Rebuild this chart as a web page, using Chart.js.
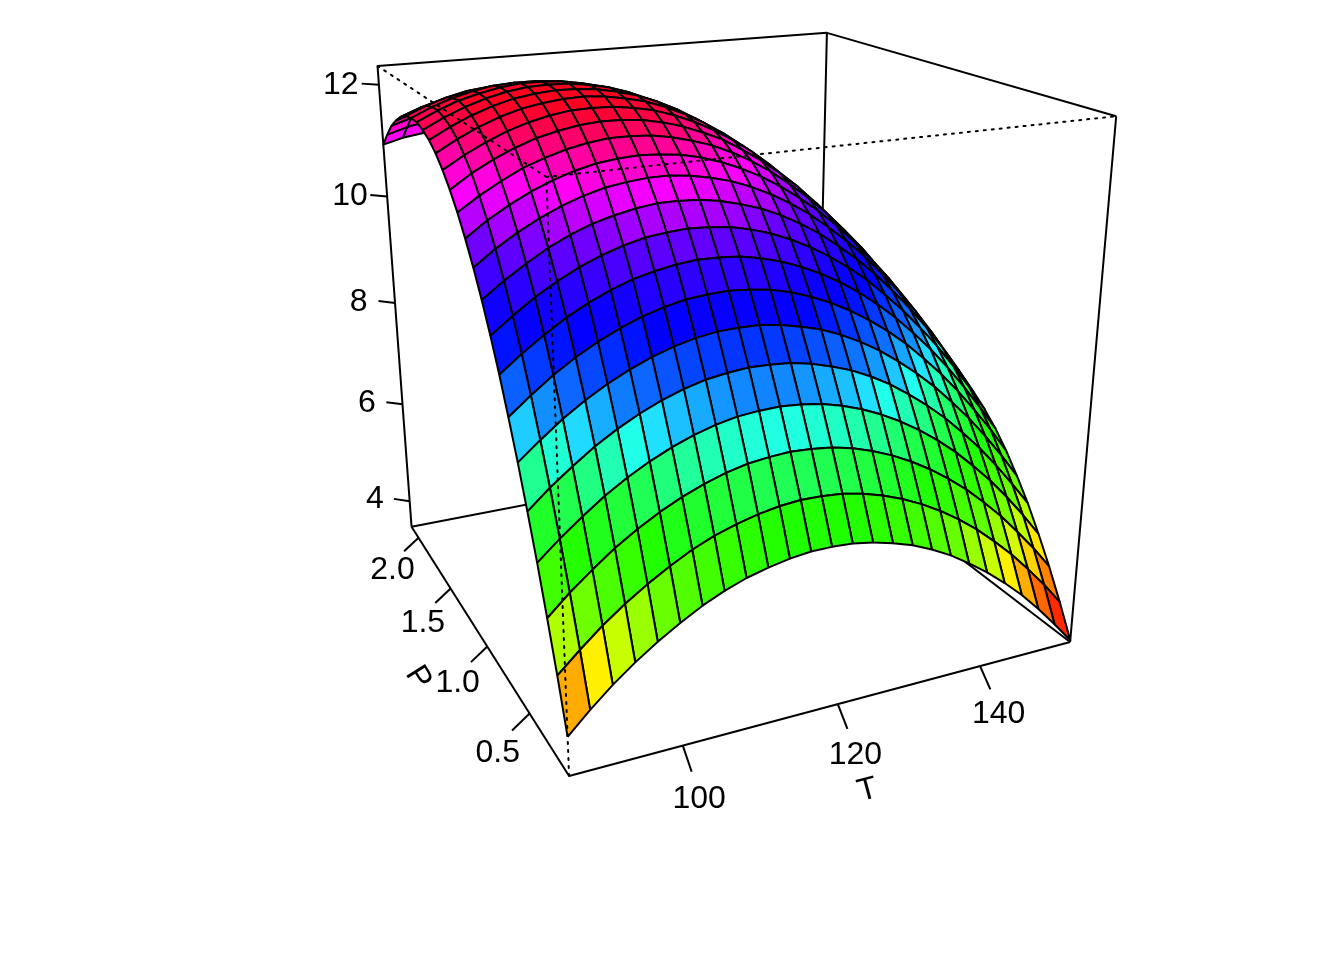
<!DOCTYPE html>
<html lang="en">
<head>
  <meta charset="UTF-8" />
  <title>Response surface of T and P</title>
  <script src="https://cdn.jsdelivr.net/npm/chart.js"></script>
  <style>
    body { margin: 0; background: #fff; }
    canvas { display: block; }
  </style>
</head>
<body>
  <canvas id="surface" width="1344" height="960"></canvas>

  <script>
    // grid of the surface
    const tValues = [86.38, 89.07, 91.76, 94.44, 97.13, 99.82, 102.51, 105.19, 107.88, 110.57, 113.26, 115.94, 118.63, 121.32, 124.01, 126.69, 129.38, 132.07, 134.76, 137.44, 140.13, 142.82, 145.51, 148.19, 150.88, 153.57];
    const pValues = [0.094, 0.175, 0.256, 0.337, 0.418, 0.499, 0.580, 0.660, 0.741, 0.822, 0.903, 0.984, 1.065, 1.146, 1.227, 1.308, 1.389, 1.470, 1.551, 1.632, 1.712, 1.793, 1.874, 1.955, 2.036, 2.117];
    // one row per P value, one column per T value
    const zRows = [
      [4.12, 4.47, 4.79, 5.07, 5.32, 5.54, 5.74, 5.90, 6.03, 6.12, 6.19, 6.23, 6.23, 6.21, 6.15, 6.06, 5.95, 5.80, 5.62, 5.40, 5.16, 4.89, 4.59, 4.25, 3.88, 3.49],
      [4.93, 5.26, 5.57, 5.84, 6.08, 6.29, 6.48, 6.63, 6.74, 6.83, 6.89, 6.92, 6.91, 6.88, 6.81, 6.71, 6.58, 6.42, 6.23, 6.01, 5.76, 5.47, 5.16, 4.81, 4.44, 4.03],
      [5.68, 6.01, 6.30, 6.57, 6.80, 7.00, 7.17, 7.31, 7.42, 7.50, 7.54, 7.56, 7.54, 7.50, 7.42, 7.31, 7.17, 7.00, 6.80, 6.57, 6.31, 6.01, 5.69, 5.33, 4.95, 4.53],
      [6.40, 6.71, 6.99, 7.25, 7.47, 7.66, 7.82, 7.95, 8.05, 8.12, 8.15, 8.16, 8.13, 8.08, 7.99, 7.87, 7.72, 7.54, 7.33, 7.09, 6.82, 6.51, 6.18, 5.81, 5.41, 4.98],
      [7.06, 7.37, 7.64, 7.89, 8.10, 8.28, 8.43, 8.55, 8.64, 8.69, 8.72, 8.71, 8.68, 8.61, 8.51, 8.39, 8.23, 8.04, 7.81, 7.56, 7.28, 6.96, 6.62, 6.24, 5.83, 5.40],
      [7.69, 7.98, 8.25, 8.48, 8.68, 8.85, 8.99, 9.10, 9.18, 9.23, 9.24, 9.23, 9.18, 9.10, 9.00, 8.86, 8.69, 8.49, 8.25, 7.99, 7.70, 7.37, 7.02, 6.63, 6.21, 5.76],
      [8.27, 8.55, 8.81, 9.03, 9.22, 9.38, 9.51, 9.61, 9.68, 9.71, 9.72, 9.69, 9.64, 9.55, 9.43, 9.28, 9.10, 8.89, 8.65, 8.38, 8.07, 7.74, 7.37, 6.97, 6.55, 6.09],
      [8.81, 9.08, 9.32, 9.54, 9.72, 9.87, 9.99, 10.07, 10.13, 10.16, 10.15, 10.12, 10.05, 9.95, 9.82, 9.66, 9.47, 9.25, 9.00, 8.72, 8.40, 8.06, 7.68, 7.27, 6.83, 6.37],
      [9.30, 9.56, 9.80, 10.00, 10.17, 10.31, 10.42, 10.50, 10.54, 10.56, 10.54, 10.50, 10.42, 10.31, 10.17, 10.00, 9.80, 9.57, 9.31, 9.01, 8.69, 8.33, 7.95, 7.53, 7.08, 6.60],
      [9.75, 10.00, 10.22, 10.42, 10.58, 10.71, 10.80, 10.87, 10.91, 10.91, 10.89, 10.83, 10.74, 10.63, 10.48, 10.30, 10.09, 9.84, 9.57, 9.27, 8.93, 8.57, 8.17, 7.74, 7.28, 6.79],
      [10.15, 10.40, 10.61, 10.79, 10.94, 11.06, 11.15, 11.20, 11.23, 11.23, 11.19, 11.12, 11.03, 10.90, 10.74, 10.55, 10.33, 10.07, 9.79, 9.48, 9.13, 8.75, 8.35, 7.91, 7.44, 6.94],
      [10.51, 10.75, 10.95, 11.12, 11.26, 11.37, 11.45, 11.49, 11.51, 11.49, 11.45, 11.37, 11.26, 11.12, 10.95, 10.75, 10.52, 10.26, 9.97, 9.64, 9.28, 8.90, 8.48, 8.03, 7.55, 7.04],
      [10.83, 11.05, 11.24, 11.41, 11.53, 11.63, 11.70, 11.74, 11.74, 11.72, 11.66, 11.57, 11.46, 11.31, 11.13, 10.92, 10.67, 10.40, 10.10, 9.76, 9.40, 9.00, 8.57, 8.11, 7.62, 7.10],
      [11.10, 11.32, 11.50, 11.65, 11.77, 11.85, 11.91, 11.94, 11.93, 11.90, 11.83, 11.73, 11.60, 11.45, 11.25, 11.03, 10.78, 10.50, 10.18, 9.84, 9.46, 9.05, 8.62, 8.15, 7.65, 7.12],
      [11.33, 11.53, 11.70, 11.84, 11.95, 12.03, 12.08, 12.09, 12.08, 12.03, 11.96, 11.85, 11.71, 11.54, 11.34, 11.11, 10.84, 10.55, 10.23, 9.87, 9.48, 9.07, 8.62, 8.14, 7.63, 7.09],
      [11.52, 11.71, 11.87, 12.00, 12.10, 12.16, 12.20, 12.21, 12.18, 12.12, 12.04, 11.92, 11.77, 11.59, 11.38, 11.14, 10.86, 10.56, 10.22, 9.86, 9.46, 9.03, 8.58, 8.09, 7.56, 7.01],
      [11.66, 11.84, 11.99, 12.11, 12.20, 12.25, 12.28, 12.27, 12.24, 12.17, 12.08, 11.95, 11.79, 11.60, 11.38, 11.12, 10.84, 10.53, 10.18, 9.80, 9.40, 8.96, 8.49, 7.99, 7.46, 6.90],
      [11.75, 11.92, 12.06, 12.17, 12.25, 12.30, 12.31, 12.30, 12.25, 12.18, 12.07, 11.93, 11.76, 11.56, 11.33, 11.06, 10.77, 10.45, 10.09, 9.70, 9.29, 8.84, 8.36, 7.85, 7.31, 6.73],
      [11.81, 11.97, 12.10, 12.19, 12.26, 12.30, 12.30, 12.28, 12.22, 12.14, 12.02, 11.87, 11.69, 11.48, 11.24, 10.96, 10.66, 10.32, 9.96, 9.56, 9.13, 8.67, 8.18, 7.66, 7.11, 6.53],
      [11.81, 11.96, 12.08, 12.17, 12.23, 12.25, 12.25, 12.22, 12.15, 12.05, 11.92, 11.76, 11.57, 11.35, 11.10, 10.82, 10.50, 10.16, 9.78, 9.37, 8.93, 8.47, 7.97, 7.43, 6.87, 6.28],
      [11.78, 11.92, 12.03, 12.11, 12.15, 12.17, 12.15, 12.11, 12.03, 11.92, 11.78, 11.61, 11.41, 11.18, 10.92, 10.63, 10.30, 9.95, 9.56, 9.14, 8.69, 8.21, 7.70, 7.16, 6.59, 5.99],
      [11.70, 11.83, 11.93, 11.99, 12.03, 12.04, 12.01, 11.96, 11.87, 11.75, 11.60, 11.42, 11.21, 10.97, 10.69, 10.39, 10.06, 9.69, 9.29, 8.87, 8.41, 7.92, 7.40, 6.84, 6.26, 5.65],
      [11.57, 11.69, 11.78, 11.84, 11.87, 11.86, 11.83, 11.76, 11.66, 11.53, 11.37, 11.18, 10.96, 10.71, 10.43, 10.11, 9.77, 9.39, 8.98, 8.55, 8.08, 7.58, 7.05, 6.48, 5.89, 5.27],
      [11.41, 11.52, 11.59, 11.64, 11.66, 11.64, 11.60, 11.52, 11.41, 11.27, 11.10, 10.90, 10.67, 10.41, 10.11, 9.79, 9.43, 9.05, 8.63, 8.18, 7.70, 7.19, 6.65, 6.08, 5.48, 4.84],
      [11.19, 11.29, 11.36, 11.40, 11.40, 11.38, 11.32, 11.24, 11.12, 10.97, 10.79, 10.58, 10.34, 10.06, 9.76, 9.42, 9.06, 8.66, 8.23, 7.77, 7.28, 6.76, 6.21, 5.63, 5.02, 4.37],
      [10.94, 11.03, 11.08, 11.11, 11.11, 11.07, 11.00, 10.91, 10.78, 10.62, 10.43, 10.21, 9.96, 9.67, 9.36, 9.01, 8.64, 8.23, 7.79, 7.32, 6.82, 6.29, 5.73, 5.14, 4.51, 3.86]
    ];

    const boxT = [86.38, 153.57];
    const boxP = [0.094, 2.117];
    const boxZ = [3.457, 12.326];

    const tTicks = [100, 120, 140];
    const pTicks = [0.5, 1.0, 1.5, 2.0];
    const zTicks = [4, 6, 8, 10, 12];

    // colour stops: facet mean z and the colour seen there
    const colorZ = [3.95, 4.335, 4.69, 5.02, 5.32, 5.55, 5.85, 6.2, 6.55, 7.2, 7.6, 7.8, 7.95, 8.1, 8.28, 8.45, 8.8, 9.1, 9.3, 9.65, 10.08, 10.45, 10.65, 10.88, 11.1, 11.35, 11.55, 11.75, 11.95, 12.15];
    const colorHex = ['ff2800', 'ff6600', 'ffaa00', 'fff000', 'c8ff00', 'a0ff00', '60ff00', '40ff00', '20ff00', '20ff50', '20ffa0', '20ffd0', '20ffff', '20d0ff', '18b0ff', '1080ff', '0850ff', '0020ff', '0000ff', '1000ff', '4000ff', '7000ff', 'a000ff', 'c800ff', 'ff00ff', 'ff00d0', 'ff00a0', 'ff0070', 'ff0040', 'ff0020'];

    // viewing transform, same as persp(theta = -25, phi = 20)
    const theta = -25 * Math.PI / 180;
    const phi = 20 * Math.PI / 180;
    const eye = 6.0347;
    const pxPerUnit = 1572.02;
    const originX = 717.37;
    const originY = 348.59;

    function norm(v, range) {
      return 2 * (v - range[0]) / (range[1] - range[0]) - 1;
    }

    function view(T, P, Z) {
      const x = norm(T, boxT), y = norm(P, boxP), z = norm(Z, boxZ);
      const a = Math.cos(theta) * x + Math.sin(theta) * y;
      const c = Math.sin(theta) * x - Math.cos(theta) * y;
      const b = Math.cos(phi) * z - Math.sin(phi) * c;
      const depth = Math.sin(phi) * z + Math.cos(phi) * c;
      const w = eye - depth;
      return { x: a / w, y: b / w, depth: depth };
    }

    function facetColor(z) {
      let k = 0;
      while (k < colorZ.length - 2 && z > colorZ[k + 1]) k++;
      const f = Math.max(0, Math.min(1, (z - colorZ[k]) / (colorZ[k + 1] - colorZ[k])));
      const parts = [0, 2, 4].map(s => {
        const c0 = parseInt(colorHex[k].substr(s, 2), 16);
        const c1 = parseInt(colorHex[k + 1].substr(s, 2), 16);
        return Math.round(c0 + (c1 - c0) * f);
      });
      return `rgb(${parts.join(',')})`;
    }

    const datasets = [];
    function addLine(pts, order, dashed) {
      datasets.push({
        data: pts,
        order: order,
        showLine: true,
        borderColor: '#000',
        borderWidth: 2,
        borderDash: dashed ? [2, 6] : [],
        borderCapStyle: dashed ? 'round' : 'butt',
        pointRadius: 0,
        fill: false
      });
    }

    // facets, painted from the far side to the near side
    for (let j = 0; j < pValues.length - 1; j++) {
      for (let i = 0; i < tValues.length - 1; i++) {
        const corners = [
          view(tValues[i], pValues[j], zRows[j][i]),
          view(tValues[i + 1], pValues[j], zRows[j][i + 1]),
          view(tValues[i + 1], pValues[j + 1], zRows[j + 1][i + 1]),
          view(tValues[i], pValues[j + 1], zRows[j + 1][i]),
          view(tValues[i], pValues[j], zRows[j][i])
        ];
        const depth = (corners[0].depth + corners[1].depth + corners[2].depth + corners[3].depth) / 4;
        const mean = (zRows[j][i] + zRows[j][i + 1] + zRows[j + 1][i] + zRows[j + 1][i + 1]) / 4;
        datasets.push({
          data: corners,
          order: -depth,
          showLine: true,
          borderColor: '#000',
          borderWidth: 2,
          borderJoinStyle: 'round',
          backgroundColor: facetColor(mean),
          pointRadius: 0,
          fill: 'shape'
        });
      }
    }

    // box: far faces solid behind the surface, near corner dotted on top
    const [t0, t1] = boxT, [p0, p1] = boxP, [z0, z1] = boxZ;
    [
      [[t0, p1, z0], [t1, p1, z0]], [[t0, p1, z1], [t1, p1, z1]], [[t0, p1, z0], [t0, p1, z1]], [[t1, p1, z0], [t1, p1, z1]],
      [[t1, p0, z0], [t1, p1, z0]], [[t1, p0, z1], [t1, p1, z1]], [[t1, p0, z0], [t1, p0, z1]],
      [[t0, p0, z0], [t1, p0, z0]], [[t0, p0, z0], [t0, p1, z0]]
    ].forEach(e => addLine(e.map(q => view(q[0], q[1], q[2])), 100, false));
    [
      [[t0, p0, z1], [t1, p0, z1]], [[t0, p0, z1], [t0, p1, z1]], [[t0, p0, z0], [t0, p0, z1]]
    ].forEach(e => addLine(e.map(q => view(q[0], q[1], q[2])), -100, true));

    // tick marks point away from the box along the other two axes
    const dT = t1 - t0, dP = p1 - p0, dZ = z1 - z0;
    const labels = [];
    function addTick(at, tick, label, text) {
      const out = f => view(at[0] + f[0] * dT, at[1] + f[1] * dP, at[2] + f[2] * dZ);
      addLine([view(at[0], at[1], at[2]), out(tick)], -50, false);
      labels.push({ pos: out(label), text: text, angle: 0 });
    }
    tTicks.forEach(v => addTick([v, p0, z0], [0, -0.036, -0.029], [0, -0.0657, -0.059], String(v)));
    pTicks.forEach(v => addTick([t0, v, z0], [-0.033, 0, -0.025], [-0.0605, 0, -0.0583], v.toFixed(1)));
    zTicks.forEach(v => addTick([t0, p1, v], [-0.028, 0.026, 0], [-0.063, 0.0533, 0], String(v)));

    labels.push({ pos: view((t0 + t1) / 2, p0 - 0.1115 * dP, z0 - 0.102 * dZ), text: 'T', angle: -15 });
    labels.push({ pos: view(t0 - 0.1222 * dT, (p0 + p1) / 2, z0 - 0.0595 * dZ), text: 'P', angle: 58 });

    const axisText = {
      id: 'axisText',
      afterDatasetsDraw(chart) {
        const ctx = chart.ctx;
        ctx.save();
        ctx.fillStyle = '#000';
        ctx.font = '32px "Liberation Sans", sans-serif';
        ctx.textAlign = 'center';
        ctx.textBaseline = 'middle';
        labels.forEach(l => {
          ctx.save();
          ctx.translate(chart.scales.x.getPixelForValue(l.pos.x), chart.scales.y.getPixelForValue(l.pos.y) + 2.5);
          ctx.rotate(l.angle * Math.PI / 180);
          ctx.fillText(l.text, 0, 0);
          ctx.restore();
        });
        ctx.restore();
      }
    };

    new Chart(document.getElementById('surface'), {
      type: 'scatter',
      data: { datasets: datasets },
      plugins: [axisText],
      options: {
        responsive: false,
        animation: false,
        events: [],
        layout: { padding: 0 },
        plugins: { legend: { display: false }, tooltip: { enabled: false } },
        elements: { line: { tension: 0 } },
        scales: {
          x: { type: 'linear', display: false, min: -originX / pxPerUnit, max: (1344 - originX) / pxPerUnit },
          y: { type: 'linear', display: false, min: (originY - 960) / pxPerUnit, max: originY / pxPerUnit }
        }
      }
    });
  </script>
</body>
</html>
